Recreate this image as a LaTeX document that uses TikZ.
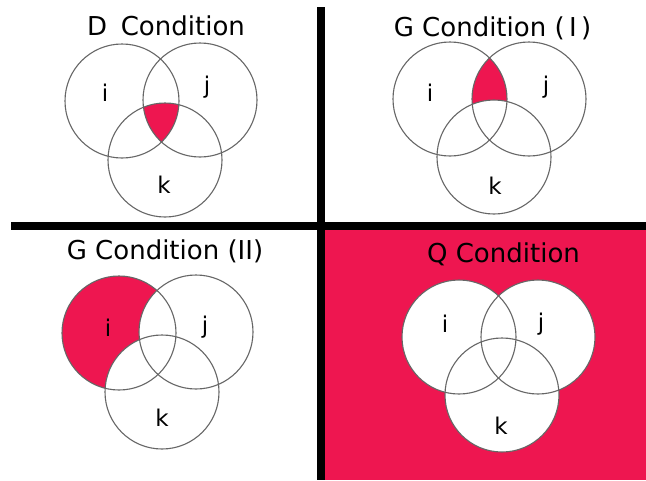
\documentclass[tikz,border=0pt]{standalone}
\usepackage{fontspec}
\setmainfont{DejaVu Sans}
\usepackage{tikz}
\usetikzlibrary{positioning}
\definecolor{hot}{RGB}{238,22,80}

\begin{document}
\begin{tikzpicture}[
  x=1pt, y=-1pt,
  ring/.style={draw=black!60, line width=1.1pt},
  title/.style={font=\fontsize{26}{30}\selectfont, anchor=base, inner sep=0pt},
  setlbl/.style={font=\fontsize{23}{26}\selectfont, inner sep=0pt},
  divider/.style={line width=8pt, black}
]
\useasboundingbox (0,0) rectangle (646,480);

% === Bottom right background ===
\fill[hot] (325,230) rectangle (646,480);

% === Top left: D Condition ===
\begin{scope}
  \coordinate (dI) at (122,101);
  \coordinate (dJ) at (200,100);
  \coordinate (dK) at (165,160);
  \begin{scope}
    \clip (dI) circle[radius=57pt];
    \clip (dJ) circle[radius=57pt];
    \fill[hot] (dK) circle[radius=57pt];
  \end{scope}
  \foreach \c in {dI,dJ,dK} { \draw[ring] (\c) circle[radius=57pt]; }
  \node[title] (dTitle) at (166,35) {D\hspace{0.53em}Condition};
  \node[setlbl] (dLi) at (105,92.5) {i};
  \node[setlbl] (dLj) at (207,87.5) {j};
  \node[setlbl] (dLk) at (164,185) {k};
\end{scope}

% === Top right: G Condition (I) ===
\begin{scope}
  \coordinate (gaI) at (450,99);
  \coordinate (gaJ) at (529,99);
  \coordinate (gaK) at (494,157);
  \begin{scope}
    \clip (gaI) circle[radius=57pt];
    \fill[hot] (gaJ) circle[radius=57pt];
    \clip (gaJ) circle[radius=57pt];
    \fill[white] (gaK) circle[radius=57pt];
  \end{scope}
  \foreach \c in {gaI,gaJ,gaK} { \draw[ring] (\c) circle[radius=57pt]; }
  \node[title] (gaTitle) at (492.5,36) {G Condition (\,I\,)};
  \node[setlbl] (gaLi) at (430,92.5) {i};
  \node[setlbl] (gaLj) at (546,87.5) {j};
  \node[setlbl] (gaLk) at (495,186) {k};
\end{scope}

% === Bottom left: G Condition (II) ===
\begin{scope}
  \coordinate (gbI) at (119,333);
  \coordinate (gbJ) at (196,332);
  \coordinate (gbK) at (162,392);
  \fill[hot] (gbI) circle[radius=57pt];
  \fill[white] (gbJ) circle[radius=57pt];
  \fill[white] (gbK) circle[radius=57pt];
  \foreach \c in {gbI,gbJ,gbK} { \draw[ring] (\c) circle[radius=57pt]; }
  \node[title] (gbTitle) at (165,259) {G Condition (II)};
  \node[setlbl] (gbLi) at (108,328) {i};
  \node[setlbl] (gbLj) at (205,327) {j};
  \node[setlbl] (gbLk) at (162,417.5) {k};
\end{scope}

% === Bottom right: Q Condition ===
\begin{scope}
  \coordinate (qI) at (459,337);
  \coordinate (qJ) at (538,337);
  \coordinate (qK) at (502,395);
  \foreach \c in {qI,qJ,qK} { \fill[white] (\c) circle[radius=57pt]; }
  \foreach \c in {qI,qJ,qK} { \draw[ring] (\c) circle[radius=57pt]; }
  \node[title] (qTitle) at (503.5,262) {Q Condition};
  \node[setlbl] (qLi) at (445,324) {i};
  \node[setlbl] (qLj) at (541,324) {j};
  \node[setlbl] (qLk) at (501,426) {k};
\end{scope}

% Dividers
\draw[divider] (11,226) -- (646,226);
\draw[divider] (321,7) -- (321,480);

\end{tikzpicture}
\end{document}
